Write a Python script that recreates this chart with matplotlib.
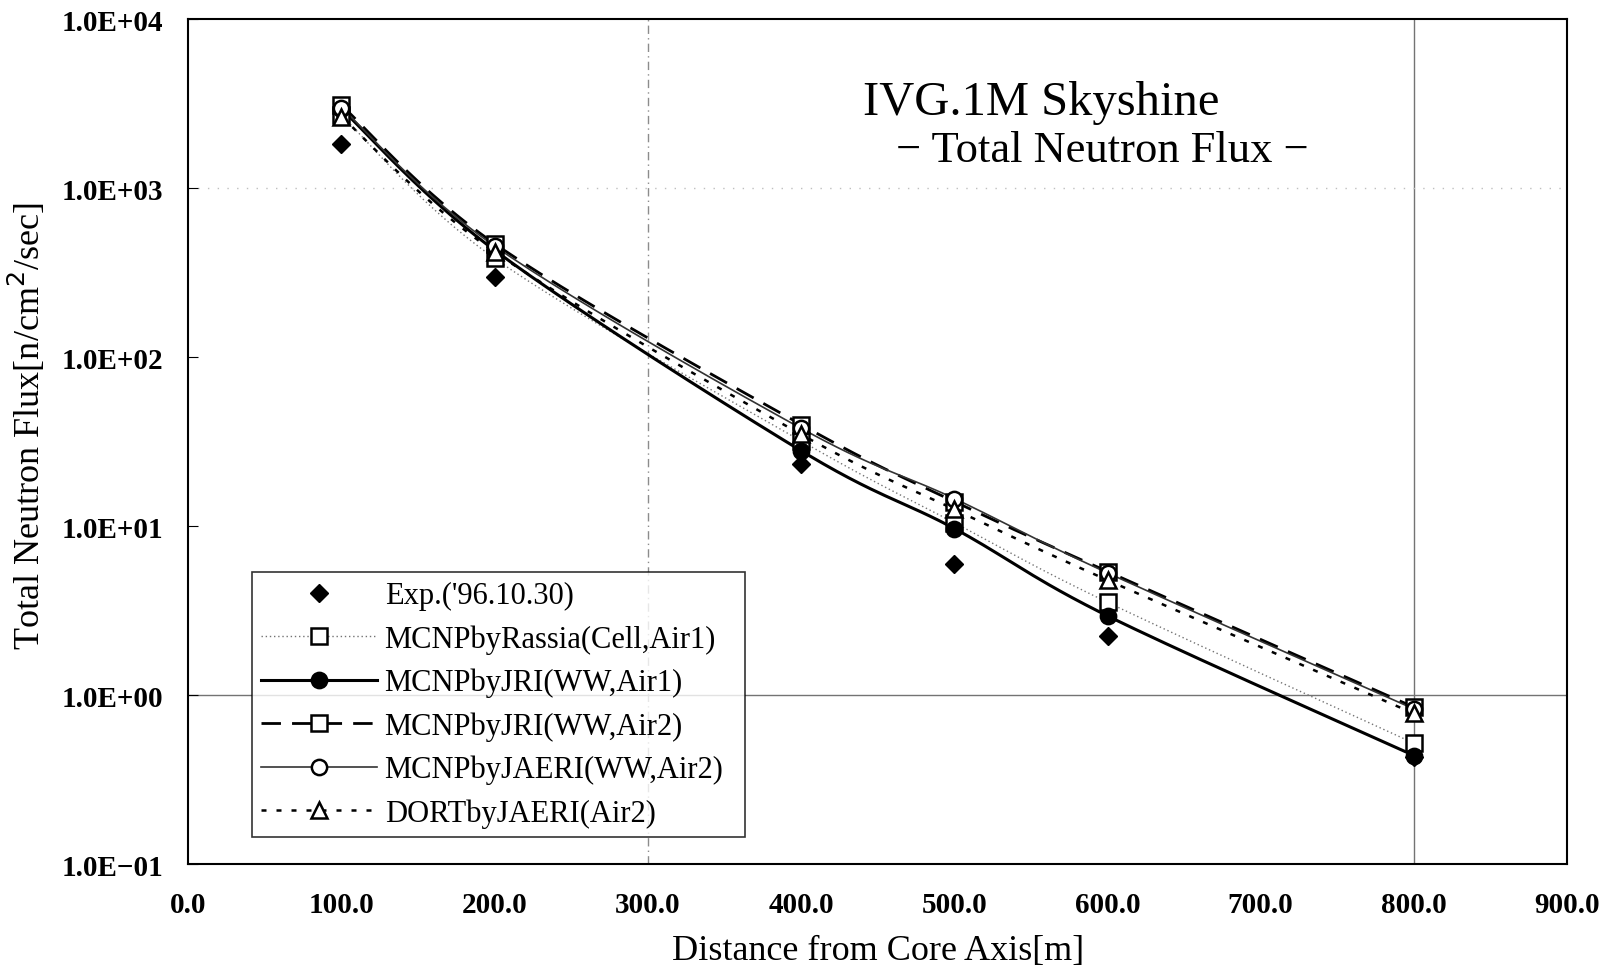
import numpy as np
import matplotlib
matplotlib.use("Agg")
import matplotlib.pyplot as plt
from matplotlib.lines import Line2D

plt.rcParams['font.family'] = ['Liberation Serif', 'DejaVu Serif']

# distances [m]
dist = [100, 200, 400, 500, 600, 800]

# total neutron flux [n/cm2/sec]
exp_flux = [1820, 300, 23.5, 6.0, 2.25, 0.43]
rassia_air1 = [2700, 385, 32, 10.5, 3.55, 0.52]
jri_air1 = [2950, 430, 28, 9.7, 2.95, 0.44]
jri_air2 = [3100, 470, 40, 14.0, 5.4, 0.85]
jaeri_air2 = [3000, 455, 38, 14.6, 5.3, 0.83]
dort_air2 = [2650, 420, 35, 12.6, 4.8, 0.78]

labels = ["Exp.('96.10.30)", "MCNPbyRassia(Cell,Air1)", "MCNPbyJRI(WW,Air1)",
          "MCNPbyJRI(WW,Air2)", "MCNPbyJAERI(WW,Air2)", "DORTbyJAERI(Air2)"]


def smooth(x, y, n=30):
    # excel style bezier smoothing, done in (x, log y)
    x = np.asarray(x, float)
    ly = np.log10(np.asarray(y, float))
    xs, ys = [], []
    m = len(x)
    for i in range(m - 1):
        a = max(i - 1, 0)
        b = min(i + 2, m - 1)
        p0 = np.array([x[i], ly[i]])
        p3 = np.array([x[i + 1], ly[i + 1]])
        p1 = p0 + (p3 - np.array([x[a], ly[a]])) / 6.0
        p2 = p3 - (np.array([x[b], ly[b]]) - p0) / 6.0
        t = np.linspace(0, 1, n)[:, None]
        pts = (1 - t) ** 3 * p0 + 3 * (1 - t) ** 2 * t * p1 + 3 * (1 - t) * t ** 2 * p2 + t ** 3 * p3
        xs.extend(pts[:, 0])
        ys.extend(pts[:, 1])
    return np.array(xs), 10 ** np.array(ys)


fig = plt.figure(figsize=(16.09, 9.70), dpi=100)
ax = fig.add_axes([0.117, 0.108, 0.857, 0.871])

ax.set_yscale('log')
ax.set_xlim(0, 900)
ax.set_ylim(0.1, 1e4)

# the few grid lines that show
ax.axvline(300, color='0.55', lw=1, ls=(0, (6, 3, 1, 3)), zorder=0)
ax.axvline(800, color='0.45', lw=1, zorder=0)
ax.axhline(1.0, color='0.45', lw=1, zorder=0)
ax.axhline(1000, color='0.75', lw=1, ls=(0, (1, 6)), zorder=0)

series = [
    (rassia_air1, dict(color='0.45', lw=1.0, ls=(0, (1, 2))), dict(marker='s', mfc='white', mec='black')),
    (jri_air1, dict(color='black', lw=2.2, ls='-'), dict(marker='o', mfc='black', mec='black')),
    (jri_air2, dict(color='black', lw=2.0, ls=(0, (7, 4))), dict(marker='s', mfc='white', mec='black')),
    (jaeri_air2, dict(color='0.2', lw=1.2, ls='-'), dict(marker='o', mfc='white', mec='black')),
    (dort_air2, dict(color='black', lw=1.8, ls=(0, (2, 4))), dict(marker='^', mfc='white', mec='black')),
]

handles = [Line2D([], [], ls='none', marker='D', color='black', ms=9)]
for vals, lstyle, mstyle in series:
    sx, sy = smooth(dist, vals)
    ax.plot(sx, sy, **lstyle, zorder=2)
    ax.plot(dist, vals, ls='none', ms=11, mew=1.8, zorder=3, **mstyle)
    handles.append(Line2D([], [], ms=11, mew=1.8, **lstyle, **mstyle))

ax.plot(dist, exp_flux, ls='none', marker='D', color='black', ms=9, zorder=4)

ax.set_xticks(np.arange(0, 901, 100))
ax.set_xticklabels(["%.1f" % v for v in np.arange(0, 901, 100)], fontsize=21, fontweight='bold')
ax.set_yticks([0.1, 1, 10, 100, 1000, 10000])
ax.set_yticklabels(["1.0E\u221201", "1.0E+00", "1.0E+01", "1.0E+02", "1.0E+03", "1.0E+04"],
                   fontsize=21, fontweight='bold')
ax.minorticks_off()
ax.tick_params(axis='x', length=0, pad=19)
ax.tick_params(axis='y', direction='in', length=7, pad=18)
for s in ax.spines.values():
    s.set_linewidth(1.5)

ax.set_xlabel("Distance from Core Axis[m]", fontsize=26, labelpad=12)
ax.set_ylabel("Total Neutron Flux[n/cm$^2$/sec]", fontsize=26)
ax.yaxis.set_label_coords(-0.102, 0.52)

ax.text(0.489, 0.902, "IVG.1M Skyshine", transform=ax.transAxes, fontsize=35, va='center')
ax.text(0.513, 0.845, "\u2212 Total Neutron Flux \u2212", transform=ax.transAxes, fontsize=32, va='center')

leg = ax.legend(handles, labels, loc='lower left', bbox_to_anchor=(0.046, 0.032, 0.358, 0.34),
                mode='expand', fontsize=22, frameon=True, fancybox=False, edgecolor='black',
                handlelength=3.8, borderaxespad=0, borderpad=0.3, labelspacing=0.46,
                handletextpad=0.25)
leg.get_frame().set_linewidth(1.2)

fig.savefig("out.png", dpi=100)
